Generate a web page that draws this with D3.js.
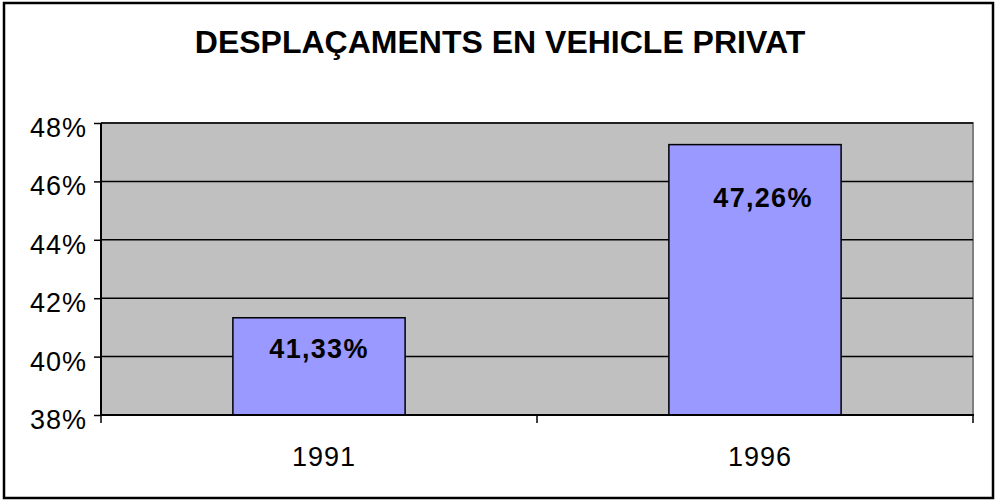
<!DOCTYPE html>
<html>
<head>
<meta charset="utf-8">
<script src="https://cdn.jsdelivr.net/npm/d3@7"></script>
<style>
  body { margin: 0; background: #fff; }
  svg { display: block; font-family: Arial, "Liberation Sans", sans-serif; }
</style>
</head>
<body>
<script>
const years = ["1991", "1996"];
const shares = [41.33, 47.26];
const valueLabels = ["41,33%", "47,26%"];
const yTicks = [38, 40, 42, 44, 46, 48];
const labelOffsets = [40, 62]; // label baseline below bar top

const W = 996, H = 501;
const plot = { left: 101, right: 973, top: 123, bottom: 415 };

const svg = d3.select("body").append("svg")
  .attr("width", W)
  .attr("height", H);

// outer frame
svg.append("rect")
  .attr("x", 4).attr("y", 3)
  .attr("width", 989).attr("height", 495)
  .attr("fill", "#fff")
  .attr("stroke", "#000")
  .attr("stroke-width", 2.5);

// title
svg.append("text")
  .attr("x", 500)
  .attr("y", 53)
  .attr("text-anchor", "middle")
  .style("font-size", "32px")
  .style("font-weight", "bold")
  .text("DESPLAÇAMENTS EN VEHICLE PRIVAT");

const x = d3.scaleBand()
  .domain(years)
  .range([plot.left, plot.right])
  .paddingInner(0.605)
  .paddingOuter(0.3025);

const y = d3.scaleLinear()
  .domain([38, 48])
  .range([plot.bottom, plot.top]);

// plot area background
svg.append("rect")
  .attr("x", plot.left).attr("y", plot.top)
  .attr("width", plot.right - plot.left)
  .attr("height", plot.bottom - plot.top)
  .attr("fill", "#c0c0c0");

// gray top/right border
svg.append("path")
  .attr("d", `M${plot.left},${plot.top}H${plot.right}V${plot.bottom}`)
  .attr("fill", "none")
  .attr("stroke", "#808080")
  .attr("stroke-width", 2);

// gridlines
svg.append("g")
  .selectAll("line")
  .data(yTicks.slice(1))
  .enter().append("line")
  .attr("x1", plot.left).attr("x2", plot.right)
  .attr("y1", d => y(d)).attr("y2", d => y(d))
  .attr("stroke", "#000")
  .attr("stroke-width", 1.5);

// bars
svg.append("g")
  .selectAll("rect")
  .data(years)
  .enter().append("rect")
  .attr("x", d => x(d))
  .attr("y", (d, i) => y(shares[i]))
  .attr("width", x.bandwidth())
  .attr("height", (d, i) => y(38) - y(shares[i]))
  .attr("fill", "#9999ff")
  .attr("stroke", "#000")
  .attr("stroke-width", 1.5);

// value labels
svg.append("g")
  .selectAll("text")
  .data(years)
  .enter().append("text")
  .attr("x", (d, i) => x(d) + x.bandwidth() / 2 + (i === 1 ? 8 : 0))
  .attr("y", (d, i) => y(shares[i]) + labelOffsets[i])
  .attr("text-anchor", "middle")
  .style("font-size", "27px")
  .style("font-weight", "bold")
  .style("letter-spacing", "1.3px")
  .text((d, i) => valueLabels[i]);

// y axis
const yAxis = svg.append("g")
  .attr("transform", `translate(${plot.left},0)`)
  .call(d3.axisLeft(y).tickValues(yTicks).tickSize(7).tickPadding(7)
    .tickFormat(d => d + "%"));
yAxis.select(".domain").attr("stroke", "#000").attr("stroke-width", 2)
  .attr("d", `M0,${plot.top}V${plot.bottom}`);
yAxis.selectAll(".tick line").attr("stroke", "#000").attr("stroke-width", 1.5);
yAxis.selectAll(".tick text")
  .attr("fill", "#000")
  .attr("dy", "0.5em")
  .style("font-size", "27px")
  .style("letter-spacing", "1px")
  .style("font-family", "Arial, 'Liberation Sans', sans-serif");

// x axis
const boundaries = [plot.left, (plot.left + plot.right) / 2, plot.right];
const xAxis = svg.append("g");
xAxis.append("line")
  .attr("x1", plot.left).attr("x2", plot.right + 1)
  .attr("y1", plot.bottom).attr("y2", plot.bottom)
  .attr("stroke", "#000").attr("stroke-width", 2);
xAxis.selectAll(".tk")
  .data(boundaries)
  .enter().append("line")
  .attr("x1", d => d).attr("x2", d => d)
  .attr("y1", plot.bottom).attr("y2", plot.bottom + 8)
  .attr("stroke", "#000").attr("stroke-width", 1.5);
xAxis.selectAll("text")
  .data(years)
  .enter().append("text")
  .attr("x", d => x(d) + x.bandwidth() / 2 + 5)
  .attr("y", 466)
  .attr("text-anchor", "middle")
  .style("font-size", "27px")
  .style("letter-spacing", "1px")
  .text(d => d);
</script>
</body>
</html>
